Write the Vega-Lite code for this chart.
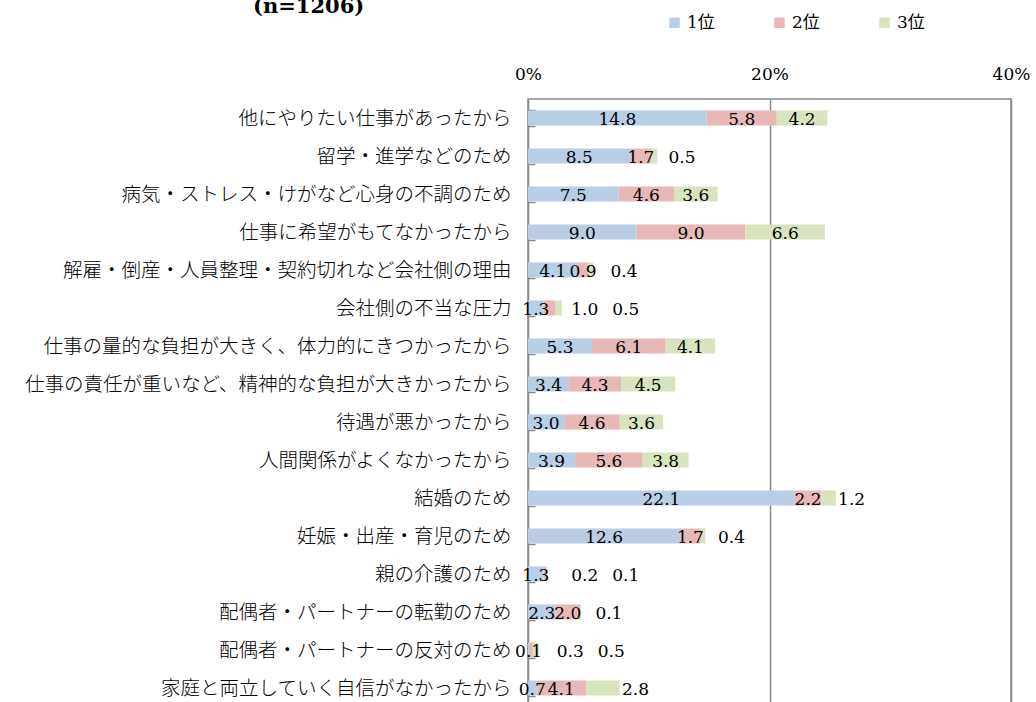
{
  "$schema": "https://vega.github.io/schema/vega-lite/v6.json",
  "width": 483,
  "height": 608,
  "autosize": "none",
  "padding": {"left": 528, "top": 99, "right": 25, "bottom": 0},
  "background": "white",
  "config": {
    "view": {"stroke": "#898989", "strokeWidth": 1.5},
    "font": "DejaVu Serif"
  },
  "title": {
    "text": "(n=1206)",
    "anchor": "start",
    "frame": "group",
    "dx": -275,
    "dy": 7,
    "fontSize": 21,
    "fontWeight": "bold",
    "font": "DejaVu Serif",
    "color": "#000000"
  },
  "data": {
    "values": [
      {"cat": "他にやりたい仕事があったから", "1位": 14.8, "2位": 5.8, "3位": 4.2},
      {"cat": "留学・進学などのため", "1位": 8.5, "2位": 1.7, "3位": 0.5},
      {"cat": "病気・ストレス・けがなど心身の不調のため", "1位": 7.5, "2位": 4.6, "3位": 3.6},
      {"cat": "仕事に希望がもてなかったから", "1位": 9.0, "2位": 9.0, "3位": 6.6},
      {"cat": "解雇・倒産・人員整理・契約切れなど会社側の理由", "1位": 4.1, "2位": 0.9, "3位": 0.4},
      {"cat": "会社側の不当な圧力", "1位": 1.3, "2位": 1.0, "3位": 0.5},
      {"cat": "仕事の量的な負担が大きく、体力的にきつかったから", "1位": 5.3, "2位": 6.1, "3位": 4.1},
      {"cat": "仕事の責任が重いなど、精神的な負担が大きかったから", "1位": 3.4, "2位": 4.3, "3位": 4.5},
      {"cat": "待遇が悪かったから", "1位": 3.0, "2位": 4.6, "3位": 3.6},
      {"cat": "人間関係がよくなかったから", "1位": 3.9, "2位": 5.6, "3位": 3.8},
      {"cat": "結婚のため", "1位": 22.1, "2位": 2.2, "3位": 1.2},
      {"cat": "妊娠・出産・育児のため", "1位": 12.6, "2位": 1.7, "3位": 0.4},
      {"cat": "親の介護のため", "1位": 1.3, "2位": 0.2, "3位": 0.1},
      {"cat": "配偶者・パートナーの転勤のため", "1位": 2.3, "2位": 2.0, "3位": 0.1},
      {"cat": "配偶者・パートナーの反対のため", "1位": 0.1, "2位": 0.3, "3位": 0.5},
      {"cat": "家庭と両立していく自信がなかったから", "1位": 0.7, "2位": 4.1, "3位": 2.8}
    ]
  },
  "transform": [
    {"calculate": "datum['1位'] / 2", "as": "l1"},
    {"calculate": "(datum['2位'] < 1.2 && datum['1位'] < 2) ? datum['1位'] + 3.4 : datum['1位'] + datum['2位'] / 2", "as": "l2"},
    {"calculate": "datum['3位'] < 3 ? max(datum['1位'] + datum['2位'] + datum['3位'] + 1.3, datum.l2 + 3.4) : datum['1位'] + datum['2位'] + datum['3位'] / 2", "as": "l3"}
  ],
  "encoding": {
    "y": {
      "field": "cat",
      "type": "nominal",
      "sort": null,
      "scale": {"paddingInner": 0.605, "paddingOuter": 0.3025},
      "axis": {
        "title": null,
        "labelFont": "Noto Sans CJK JP",
        "labelFontSize": 19.5,
        "labelFontWeight": 300,
        "labelColor": "#000000",
        "labelPadding": 24,
        "labelLimit": 600,
        "tickSize": -7,
        "tickBand": "extent",
        "tickColor": "#898989",
        "tickWidth": 1.5,
        "domain": false
      }
    }
  },
  "layer": [
    {
      "transform": [{"fold": ["1位", "2位", "3位"], "as": ["rank", "value"]}],
      "mark": {"type": "bar"},
      "encoding": {
        "x": {
          "field": "value",
          "type": "quantitative",
          "stack": "zero",
          "scale": {"domain": [0, 40], "nice": false},
          "axis": {
            "orient": "top",
            "values": [0, 20, 40],
            "labelExpr": "datum.value + '%'",
            "title": null,
            "ticks": false,
            "domain": false,
            "grid": true,
            "gridColor": "#898989",
            "gridWidth": 1.5,
            "labelFlush": false,
            "labelOverlap": false,
            "labelFont": "DejaVu Serif",
            "labelFontSize": 17,
            "labelPadding": 16,
            "labelColor": "#000000"
          }
        },
        "color": {
          "field": "rank",
          "type": "nominal",
          "scale": {"domain": ["1位", "2位", "3位"], "range": ["#b9cde5", "#e6b9b8", "#d7e4bd"]},
          "legend": {
            "title": null,
            "orient": "none",
            "legendX": 138,
            "legendY": -85,
            "direction": "horizontal",
            "symbolType": "square",
            "symbolSize": 110,
            "symbolStrokeWidth": 0,
            "labelFont": "DejaVu Serif, Noto Sans CJK JP",
            "labelFontSize": 17,
            "labelColor": "#000000",
            "labelOffset": 4,
            "columnPadding": 56
          }
        },
        "order": {"field": "rank"}
      }
    },
    {
      "mark": {"type": "text", "font": "DejaVu Serif", "fontSize": 17, "color": "#000000", "baseline": "middle", "dy": 2},
      "encoding": {
        "x": {"field": "l1", "type": "quantitative"},
        "text": {"field": "1位", "type": "quantitative", "format": ".1f"}
      }
    },
    {
      "mark": {"type": "text", "font": "DejaVu Serif", "fontSize": 17, "color": "#000000", "baseline": "middle", "dy": 2},
      "encoding": {
        "x": {"field": "l2", "type": "quantitative"},
        "text": {"field": "2位", "type": "quantitative", "format": ".1f"}
      }
    },
    {
      "mark": {"type": "text", "font": "DejaVu Serif", "fontSize": 17, "color": "#000000", "baseline": "middle", "dy": 2},
      "encoding": {
        "x": {"field": "l3", "type": "quantitative"},
        "text": {"field": "3位", "type": "quantitative", "format": ".1f"}
      }
    }
  ]
}
